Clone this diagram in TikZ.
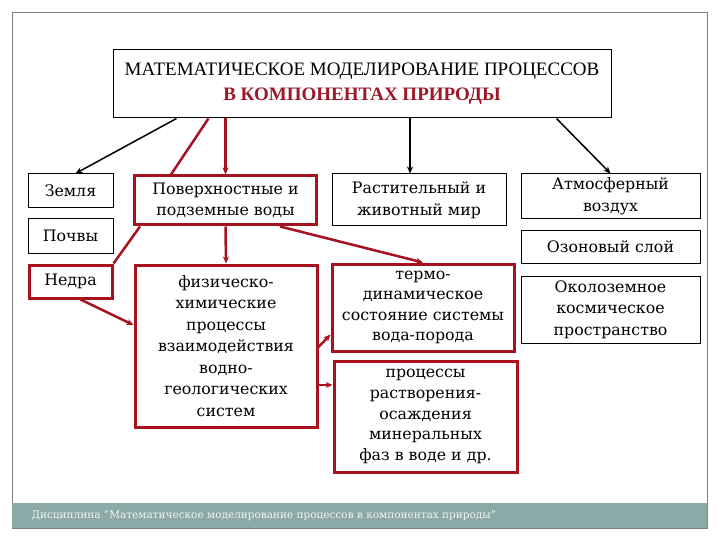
\documentclass[tikz,border=0pt]{standalone}
\usepackage{fontspec}
\setmainfont{DejaVu Serif}
\newfontfamily\titlefont{Liberation Serif}
\usetikzlibrary{arrows.meta}
\definecolor{boxred}{RGB}{168,18,32}
\definecolor{titlered}{RGB}{156,24,40}
\definecolor{barteal}{RGB}{139,169,167}
\tikzset{
  plainbox/.style={draw=black, line width=1pt, align=center, inner sep=0pt,
    font=\fontsize{15.8}{21.5}\selectfont},
  redbox/.style={plainbox, draw=boxred, line width=3pt},
  redline/.style={draw=boxred, line width=2.5pt},
  blackline/.style={draw=black, line width=1.5pt},
}
\begin{document}
\begin{tikzpicture}[x=1pt, y=-1pt, >={Stealth[length=7pt,width=6pt]}]
    \useasboundingbox (0,0) rectangle (720,540);
    % slide frame and footer
    \draw[gray, line width=1pt] (12,13) rectangle (707,528);
    \fill[barteal] (12,503) rectangle (707,528);
    \node[anchor=west, text=white!88!barteal, font=\fontsize{10.5}{12}\selectfont] (footer) at (28,516)
        {Дисциплина \symbol{34}Математическое моделирование процессов в компонентах природы\symbol{34}};
    % title
    \node[draw, line width=1pt, align=center, minimum width=498, minimum height=68,
          font=\titlefont\fontsize{19}{25}\selectfont] (title) at (362,84)
        {МАТЕМАТИЧЕСКОЕ МОДЕЛИРОВАНИЕ ПРОЦЕССОВ\\ \textcolor{titlered}{\bfseries В КОМПОНЕНТАХ ПРИРОДЫ}};
    % left column
    \node[plainbox, minimum width=85, minimum height=34] (zemlya) at (70.5,191) {Земля};
    \node[plainbox, minimum width=85, minimum height=34] (pochvy) at (70.5,236) {Почвы};
    \node[redbox, minimum width=83, minimum height=33] (nedra) at (70.5,281.5) {Недра};
    % waters
    \node[redbox, minimum width=182, minimum height=49] (poverkh) at (225.5,200.5) {Поверхностные и\\подземные воды};
    \node[redbox, minimum width=182, minimum height=162] (fizkhim) at (226,346)
        {физическо-\\химические\\процессы\\взаимодействия\\водно-\\геологических\\систем};
    % middle column
    \node[plainbox, minimum width=174, minimum height=52] (rastit) at (419,200) {Растительный и\\животный мир};
    \node[redbox, minimum width=182, minimum height=87, font=\fontsize{15.8}{20.5}\selectfont] (termo) at (423,307.5)
        {термо-\\динамическое\\состояние системы\\вода-порода};
    \node[redbox, minimum width=183, minimum height=111, font=\fontsize{15.8}{20.8}\selectfont] (rastvor) at (425.5,416.5)
        {процессы\\растворения-\\осаждения\\минеральных\\фаз в воде и др.};
    % right column
    \node[plainbox, minimum width=179, minimum height=45] (atmos) at (610.5,196.5) {Атмосферный\\воздух};
    \node[plainbox, minimum width=179, minimum height=32] (ozon) at (610.5,247) {Озоновый слой};
    \node[plainbox, minimum width=179, minimum height=67] (okolo) at (610.5,309.5)
        {Околоземное\\космическое\\пространство};
    % connectors
    \draw[blackline, ->] ([xshift=64pt]title.south west) -- ([xshift=5pt]zemlya.north);
    \draw[redline] ([xshift=96pt]title.south west) -- ([xshift=38pt]poverkh.north west);
    \draw[redline, ->] (title.south -| poverkh.north) -- (poverkh.north);
    \draw[blackline, ->] ([xshift=-9pt]title.south -| rastit.north) -- ([xshift=-9pt]rastit.north);
    \draw[blackline, ->] ([xshift=-55pt]title.south east) -- (atmos.north);
    \draw[redline] ([xshift=7pt]poverkh.south west) -- (nedra.north east);
    \draw[redline, ->] (poverkh.south) -- (fizkhim.north);
    \draw[redline, ->] ([xshift=-38pt]poverkh.south east) -- (termo.north);
    \draw[redline, ->] ([xshift=10pt]nedra.south) -- ([yshift=21pt]fizkhim.west);
    \draw[redline, ->] ([yshift=-1pt]fizkhim.east) -- ([yshift=-27pt]termo.west);
    \coordinate (fk3) at ([yshift=-39pt]fizkhim.east);
    \draw[redline, ->] (fk3) -- (fk3 -| rastvor.west);
\end{tikzpicture}
\end{document}
